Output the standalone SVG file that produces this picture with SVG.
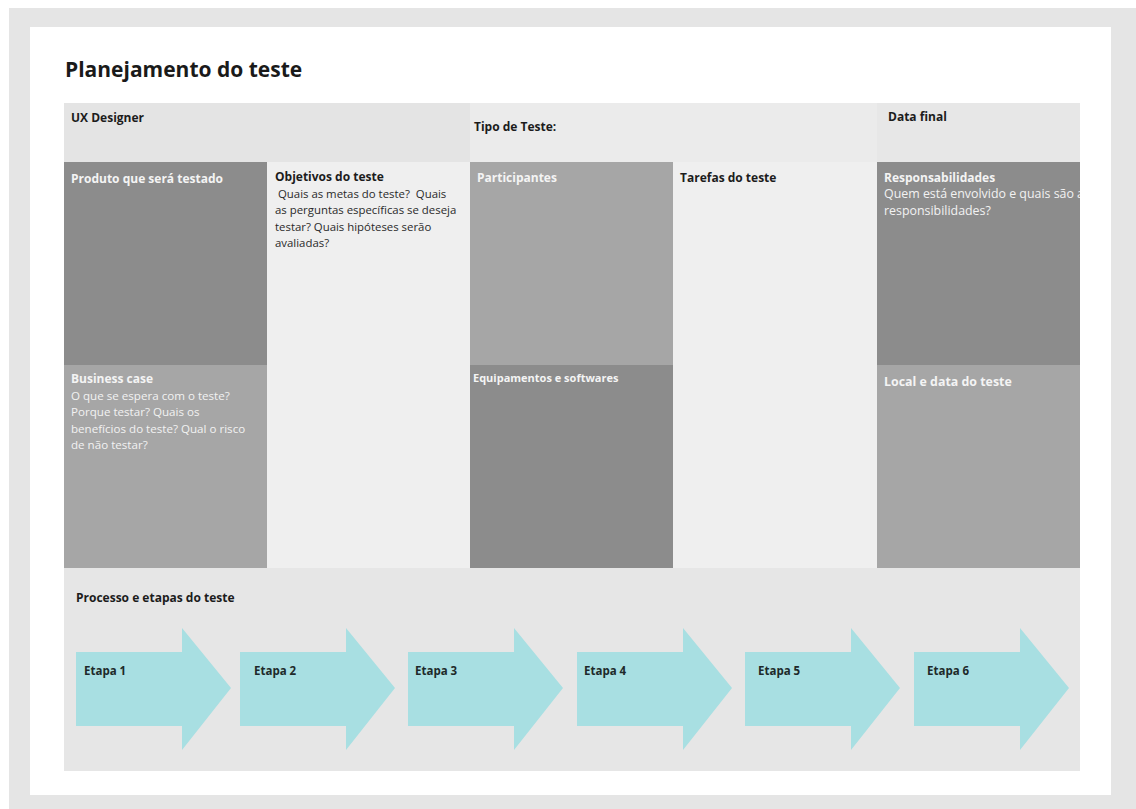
<svg xmlns="http://www.w3.org/2000/svg" width="1136" height="809" viewBox="0 0 1136 809">
<style>
text{font-family:"Open Sans","Noto Sans","Liberation Sans",sans-serif;}
.h{font-size:12px;font-weight:700;fill:#1c1c1c;}
.hw{font-size:12px;font-weight:700;fill:#f4f4f4;}
.b{font-size:11.4px;fill:#2a2a2a;}
.bw{font-size:11.6px;fill:#f2f2f2;}
.dark{fill:#8c8c8c;}
.mid{fill:#a6a6a6;}
.light{fill:#efefef;}
.arrow{fill:#a8dfe2;}
.lab{font-size:11.5px;font-weight:700;fill:#1e2a2a;}
</style>
<defs>
<path id="arr" d="M0,24 H106 V0 L155,60 L106,122 V98 H0 Z"/>
<clipPath id="clipR"><rect x="877" y="162" width="203" height="203"/></clipPath>
</defs>
<rect x="0" y="0" width="1136" height="809" fill="#ffffff"/>
<rect x="9" y="8" width="1127" height="801" fill="#e5e5e5"/>
<rect x="30" y="27" width="1081" height="768" fill="#ffffff"/>
<g id="title"><text x="65" y="77" style="font-size:21px;font-weight:700;fill:#1a1a1a">Planejamento do teste</text></g>
<g id="ux-designer"><rect x="64" y="103" width="406" height="59" fill="#e4e4e4"/><text class="h" x="71" y="122">UX Designer</text></g>
<g id="tipo-teste"><rect x="470" y="103" width="407" height="59" fill="#ebebeb"/><text class="h" x="474" y="131">Tipo de Teste:</text></g>
<g id="data-final"><rect x="877" y="103" width="203" height="59" fill="#e7e7e7"/><text class="h" x="888" y="121">Data final</text></g>
<g id="produto"><rect class="dark" x="64" y="162" width="203" height="203"/><text class="hw" x="71" y="183">Produto que será testado</text></g>
<g id="objetivos"><rect class="light" x="267" y="162" width="203" height="406"/>
<text class="h" x="275" y="181">Objetivos do teste</text>
<text class="b" x="275" y="198" xml:space="preserve"> Quais as metas do teste?  Quais</text>
<text class="b" x="275" y="214">as perguntas específicas se deseja</text>
<text class="b" x="275" y="231">testar? Quais hipóteses serão</text>
<text class="b" x="275" y="247">avaliadas?</text></g>
<g id="participantes"><rect class="mid" x="470" y="162" width="203" height="203"/><text class="hw" x="477" y="182">Participantes</text></g>
<g id="tarefas"><rect class="light" x="673" y="162" width="204" height="406"/><text class="h" x="680" y="182">Tarefas do teste</text></g>
<g id="responsabilidades"><rect class="dark" x="877" y="162" width="203" height="203"/>
<g clip-path="url(#clipR)"><text class="hw" x="884" y="182">Responsabilidades</text>
<text class="bw" x="884" y="198" style="font-size:12.4px">Quem está envolvido e quais são as</text>
<text class="bw" x="884" y="215" style="font-size:12.4px">responsibilidades?</text></g></g>
<g id="business-case"><rect class="mid" x="64" y="365" width="203" height="203"/>
<text class="hw" x="71" y="383">Business case</text>
<text class="bw" x="71" y="400">O que se espera com o teste?</text>
<text class="bw" x="71" y="416">Porque testar? Quais os</text>
<text class="bw" x="71" y="433">benefícios do teste? Qual o risco</text>
<text class="bw" x="71" y="449">de não testar?</text></g>
<g id="equipamentos"><rect class="dark" x="470" y="365" width="203" height="203"/><text class="hw" x="473" y="382" style="font-size:11px">Equipamentos e softwares</text></g>
<g id="local-data"><rect class="mid" x="877" y="365" width="203" height="203"/><text class="hw" x="884" y="386" style="font-size:12.4px">Local e data do teste</text></g>
<g id="processo"><rect x="64" y="568" width="1016" height="203" fill="#e6e6e6"/><text class="h" x="76" y="602">Processo e etapas do teste</text></g>
<g id="etapa-1"><use href="#arr" class="arrow" x="76" y="628"/><text class="lab" x="84" y="675">Etapa 1</text></g>
<g id="etapa-2"><use href="#arr" class="arrow" x="240" y="628"/><text class="lab" x="254" y="675">Etapa 2</text></g>
<g id="etapa-3"><use href="#arr" class="arrow" x="408" y="628"/><text class="lab" x="415" y="675">Etapa 3</text></g>
<g id="etapa-4"><use href="#arr" class="arrow" x="577" y="628"/><text class="lab" x="584" y="675">Etapa 4</text></g>
<g id="etapa-5"><use href="#arr" class="arrow" x="745" y="628"/><text class="lab" x="758" y="675">Etapa 5</text></g>
<g id="etapa-6"><use href="#arr" class="arrow" x="914" y="628"/><text class="lab" x="927" y="675">Etapa 6</text></g>
<g id="connectors"></g>
</svg>
